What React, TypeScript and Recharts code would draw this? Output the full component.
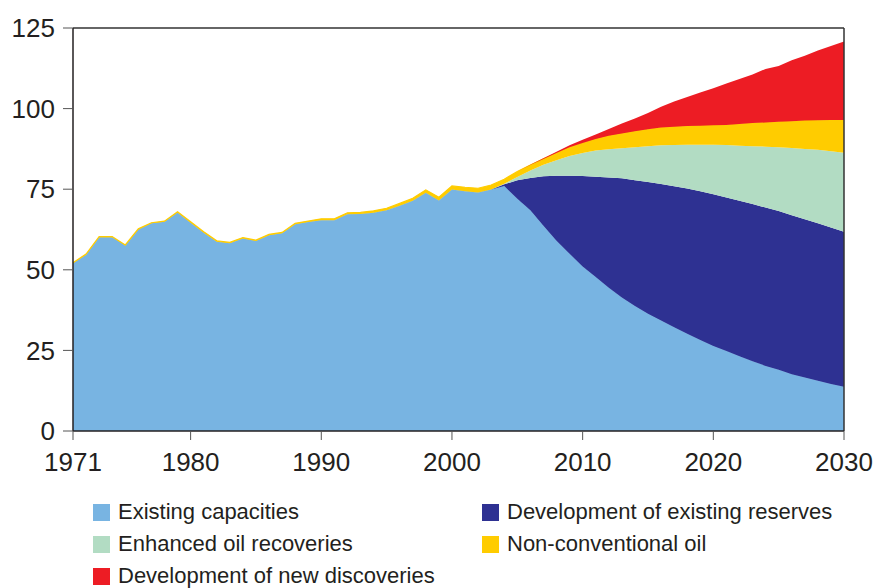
import { AreaChart, Area, XAxis, YAxis, ReferenceLine } from "recharts";

// years 1971 to 2030
const years = [
  1971, 1972, 1973, 1974, 1975, 1976, 1977, 1978, 1979, 1980,
  1981, 1982, 1983, 1984, 1985, 1986, 1987, 1988, 1989, 1990,
  1991, 1992, 1993, 1994, 1995, 1996, 1997, 1998, 1999, 2000,
  2001, 2002, 2003, 2004, 2005, 2006, 2007, 2008, 2009, 2010,
  2011, 2012, 2013, 2014, 2015, 2016, 2017, 2018, 2019, 2020,
  2021, 2022, 2023, 2024, 2025, 2026, 2027, 2028, 2029, 2030,
];

const existingCapacities = [
  52.0, 54.7, 60.1, 60.1, 57.5, 62.5, 64.4, 64.9, 67.8, 64.6,
  61.5, 58.7, 58.2, 59.7, 58.9, 60.7, 61.3, 64.1, 64.8, 65.4,
  65.4, 67.2, 67.3, 67.7, 68.5, 69.9, 71.4, 73.9, 71.5, 74.9,
  74.4, 74.0, 74.9, 76.0, 72.0, 68.5, 63.7, 59.0, 55.0, 51.0,
  47.8, 44.4, 41.4, 38.8, 36.4, 34.3, 32.2, 30.2, 28.2, 26.4,
  24.8, 23.2, 21.6, 20.2, 19.0, 17.6, 16.6, 15.6, 14.6, 13.7,
];

const existingReserves = [
  0, 0, 0, 0, 0, 0, 0, 0, 0, 0,
  0, 0, 0, 0, 0, 0, 0, 0, 0, 0,
  0, 0, 0, 0, 0, 0, 0, 0, 0, 0,
  0, 0, 0, 0.5, 5.8, 10.0, 15.3, 20.2, 24.2, 28.1,
  31.1, 34.2, 37.0, 39.0, 40.8, 42.3, 43.7, 45.0, 46.2, 47.0,
  47.6, 48.2, 48.8, 49.1, 49.2, 49.3, 49.1, 48.8, 48.5, 48.1,
];

const enhancedRecovery = [
  0, 0, 0, 0, 0, 0, 0, 0, 0, 0,
  0, 0, 0, 0, 0, 0, 0, 0, 0, 0,
  0, 0, 0, 0, 0, 0, 0, 0, 0, 0,
  0, 0, 0, 0.2, 1.0, 2.3, 3.6, 4.8, 6.1, 7.1,
  8.1, 8.8, 9.3, 10.2, 11.1, 12.0, 12.8, 13.6, 14.4, 15.4,
  16.3, 17.1, 17.9, 18.9, 19.8, 20.9, 21.8, 22.8, 23.7, 24.5,
];

const nonConventional = [
  0.2, 0.2, 0.2, 0.2, 0.2, 0.2, 0.2, 0.2, 0.2, 0.3,
  0.3, 0.3, 0.3, 0.3, 0.3, 0.3, 0.3, 0.3, 0.3, 0.4,
  0.4, 0.5, 0.5, 0.6, 0.6, 0.7, 0.8, 0.9, 1.0, 1.1,
  1.2, 1.3, 1.4, 1.4, 1.7, 1.7, 1.8, 2.2, 2.7, 3.1,
  3.6, 4.2, 4.6, 5.0, 5.3, 5.5, 5.7, 5.8, 5.9, 6.0,
  6.2, 6.7, 7.2, 7.5, 7.9, 8.3, 8.8, 9.2, 9.7, 10.2,
];

const newDiscoveries = [
  0, 0, 0, 0, 0, 0, 0, 0, 0, 0,
  0, 0, 0, 0, 0, 0, 0, 0, 0, 0,
  0, 0, 0, 0, 0, 0, 0, 0, 0, 0,
  0, 0, 0, 0, 0, 0.1, 0.2, 0.4, 0.6, 1.0,
  1.4, 2.1, 3.1, 3.9, 5.0, 6.5, 7.8, 9.0, 10.3, 11.5,
  12.9, 14.0, 15.1, 16.6, 17.3, 18.9, 20.1, 21.6, 22.9, 24.3,
];

const xTicks = [1971, 1980, 1990, 2000, 2010, 2020, 2030];
const yTicks = [0, 25, 50, 75, 100, 125];

// stacking order, bottom to top
const series = [
  { key: "existing", name: "Existing capacities", color: "#78b4e2", values: existingCapacities },
  { key: "reserves", name: "Development of existing reserves", color: "#2e3192", values: existingReserves },
  { key: "eor", name: "Enhanced oil recoveries", color: "#b2dcc3", values: enhancedRecovery },
  { key: "nonconv", name: "Non-conventional oil", color: "#ffcc00", values: nonConventional },
  { key: "discoveries", name: "Development of new discoveries", color: "#ed1c24", values: newDiscoveries },
];

// legend reads left to right, two per row
const legendOrder = ["existing", "reserves", "eor", "nonconv", "discoveries"];

const data = years.map((year, i) => {
  const row: Record<string, number> = { year };
  series.forEach((s) => (row[s.key] = s.values[i]));
  return row;
});

const TEXT = "#231f20";
const FONT = "'Liberation Sans', Arial, sans-serif";

export default function App() {
  return (
    <div
      style={{
        position: "absolute",
        left: 0,
        top: 0,
        width: 878,
        height: 588,
        background: "#fff",
        fontFamily: FONT,
      }}
    >
      <AreaChart
        width={878}
        height={481}
        data={data}
        margin={{ top: 28, right: 34, bottom: 0, left: 0 }}
      >
        <XAxis
          type="number"
          dataKey="year"
          domain={[1971, 2030]}
          ticks={xTicks}
          interval={0}
          height={50}
          tickSize={9}
          tickMargin={13}
          tick={{ fontSize: 26, fill: TEXT, fontFamily: FONT }}
          axisLine={{ stroke: TEXT, strokeWidth: 1.5 }}
          tickLine={{ stroke: "#555" }}
        />
        <YAxis
          type="number"
          domain={[0, 125]}
          ticks={yTicks}
          interval={0}
          width={73}
          tickSize={10}
          tickMargin={8}
          tick={{ fontSize: 26, fill: TEXT, fontFamily: FONT }}
          axisLine={{ stroke: TEXT, strokeWidth: 1.5 }}
          tickLine={{ stroke: "#555" }}
        />
        {series.map((s) => (
          <Area
            key={s.key}
            dataKey={s.key}
            name={s.name}
            stackId="supply"
            type="linear"
            fill={s.color}
            fillOpacity={1}
            stroke={s.key === "nonconv" || s.key === "existing" ? s.color : "none"}
            strokeWidth={s.key === "nonconv" ? 1.2 : 0.8}
            isAnimationActive={false}
          />
        ))}
        {/* frame: top and right edges */}
        <ReferenceLine y={125} stroke="#333" strokeWidth={1.5} />
        <ReferenceLine x={2030} stroke="#333" strokeWidth={1.5} />
      </AreaChart>
      <div
        style={{
          position: "absolute",
          left: 93,
          top: 496,
          display: "grid",
          gridTemplateColumns: "389px 389px",
          gridAutoRows: "32px",
        }}
      >
        {legendOrder.map((k) => {
          const s = series.find((x) => x.key === k)!;
          return (
            <div key={k} style={{ display: "flex", alignItems: "center" }}>
              <span
                style={{
                  width: 17,
                  height: 17,
                  background: s.color,
                  display: "inline-block",
                  marginRight: 8,
                }}
              />
              <span style={{ fontSize: 22, color: TEXT, whiteSpace: "nowrap" }}>{s.name}</span>
            </div>
          );
        })}
      </div>
    </div>
  );
}
